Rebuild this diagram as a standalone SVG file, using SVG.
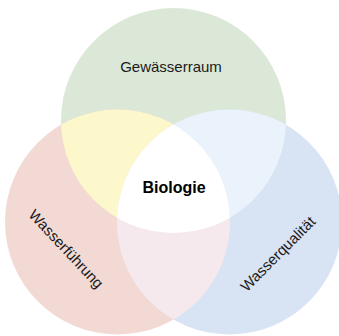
<svg xmlns="http://www.w3.org/2000/svg" width="339" height="336" viewBox="0 0 339 336">
  <style>
    .lbl { font-family: "Liberation Sans", Arial, sans-serif; fill: #1a1a1a; text-anchor: middle; }
    .set { font-size: 15px; }
    .core { font-size: 16px; font-weight: bold; fill: #000; }
  </style>
  <defs>
    <circle id="cTop" cx="173.5" cy="120.5" r="112.5"/>
    <circle id="cLeft" cx="117.5" cy="222" r="112.5"/>
    <circle id="cRight" cx="229.5" cy="222" r="112.5"/>
    <clipPath id="clipTop"><use href="#cTop"/></clipPath>
    <clipPath id="clipLeft"><use href="#cLeft"/></clipPath>
    <clipPath id="clipRight"><use href="#cRight"/></clipPath>
  </defs>
  <rect width="339" height="336" fill="#ffffff"/>

  <!-- three sets -->
  <g id="gewaesserraum">
    <use href="#cTop" fill="#dbe8d7"/>
  </g>
  <g id="wasserfuehrung">
    <use href="#cLeft" fill="#f2d9d4"/>
  </g>
  <g id="wasserqualitaet">
    <use href="#cRight" fill="#d8e3f3"/>
  </g>

  <!-- pairwise overlaps -->
  <g id="overlap-top-left" clip-path="url(#clipTop)">
    <use href="#cLeft" fill="#fcf8cb"/>
  </g>
  <g id="overlap-top-right" clip-path="url(#clipTop)">
    <use href="#cRight" fill="#eaf2fb"/>
  </g>
  <g id="overlap-left-right" clip-path="url(#clipLeft)">
    <use href="#cRight" fill="#f6e9ee"/>
  </g>

  <!-- centre: all three -->
  <g id="biologie">
    <g clip-path="url(#clipRight)">
      <g clip-path="url(#clipLeft)">
        <use href="#cTop" fill="#ffffff"/>
      </g>
    </g>
    <text class="lbl core" x="174" y="193">Biologie</text>
  </g>

  <!-- set labels -->
  <g id="labels">
    <text class="lbl set" x="171" y="72">Gewässerraum</text>
    <g transform="translate(66 249) rotate(47)">
      <text class="lbl set" x="0" y="5">Wasserführung</text>
    </g>
    <g transform="translate(278 254) rotate(-45)">
      <text class="lbl set" x="0" y="5">Wasserqualität</text>
    </g>
  </g>
</svg>
